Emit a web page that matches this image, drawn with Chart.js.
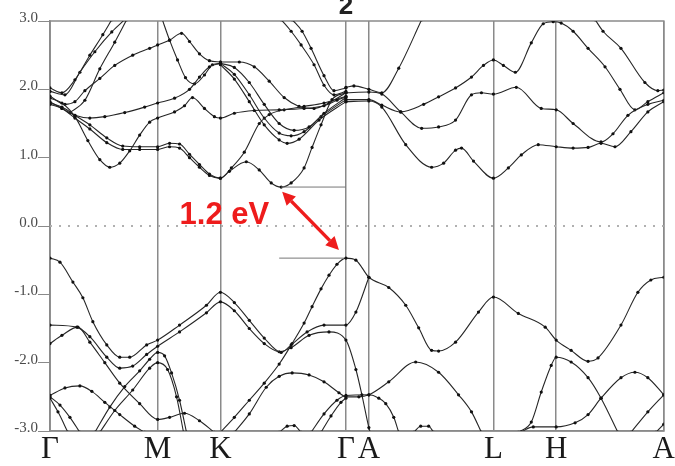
<!DOCTYPE html>
<html>
<head>
<meta charset="utf-8">
<script src="https://cdn.jsdelivr.net/npm/chart.js@4.4.1/dist/chart.umd.min.js"></script>
<style>
  html, body { margin: 0; padding: 0; background: #fff; }
  #wrap { width: 675px; height: 466px; }
</style>
</head>
<body>
<div id="wrap"><canvas id="bandChart" width="675" height="466"></canvas></div>
<script>
// high-symmetry points along the k-path
const kTicks = [0, 1.08, 1.71, 2.97, 3.20, 4.45, 5.08, 6.16];
const kLabels = ['Γ', 'M', 'K', 'Γ', 'A', 'L', 'H', 'A'];
const eTicks = [3, 2, 1, 0, -1, -2, -3];

// conduction bands [k, E]
const cb1 = [[0,1.87],[0.12,1.80],[0.25,1.60],[0.38,1.25],[0.5,0.97],[0.6,0.86],[0.7,0.92],[0.8,1.10],[0.9,1.33],[1.0,1.52],[1.08,1.58],[1.25,1.67],[1.35,1.76],[1.43,1.88],[1.55,1.72],[1.65,1.60],[1.71,1.58],[1.85,1.65],[2.05,1.69],[2.3,1.70],[2.55,1.72],[2.75,1.76],[2.88,1.84],[2.97,1.89]];
const cb2 = [[0,1.80],[0.12,1.74],[0.25,1.62],[0.4,1.48],[0.57,1.29],[0.73,1.17],[0.9,1.16],[1.08,1.16],[1.2,1.21],[1.3,1.20],[1.4,1.05],[1.5,0.90],[1.6,0.76],[1.71,0.70],[1.8,0.80],[1.97,0.94],[2.1,0.82],[2.22,0.63],[2.32,0.57],[2.42,0.63],[2.55,0.85],[2.63,1.15],[2.72,1.48],[2.83,1.85],[2.97,1.95]];
const cb3 = [[0,1.78],[0.12,1.72],[0.25,1.58],[0.4,1.42],[0.57,1.22],[0.73,1.12],[0.9,1.12],[1.08,1.12],[1.2,1.16],[1.3,1.14],[1.4,1.0],[1.5,0.86],[1.6,0.74],[1.71,0.70],[1.82,0.85],[1.95,1.08],[2.1,1.50],[2.2,1.63],[2.35,1.70],[2.55,1.75],[2.75,1.80],[2.97,1.90]];
const cb4 = [[0,1.82],[0.12,1.72],[0.25,1.62],[0.4,1.58],[0.55,1.60],[0.75,1.66],[0.95,1.74],[1.08,1.80],[1.25,1.87],[1.4,2.00],[1.5,2.18],[1.6,2.33],[1.71,2.38]];
const cb5 = [[0,1.90],[0.15,1.78],[0.25,1.82],[0.35,1.98],[0.5,2.16],[0.65,2.35],[0.83,2.50],[1.0,2.60],[1.08,2.65],[1.2,2.72],[1.32,2.82],[1.4,2.70],[1.5,2.52],[1.6,2.42],[1.71,2.40]];
const cb6 = [[1.12,3.05],[1.2,2.72],[1.28,2.43],[1.36,2.17],[1.45,2.08],[1.55,2.21],[1.63,2.36],[1.71,2.38]];
const cb7 = [[0,2.02],[0.12,1.95],[0.25,2.14],[0.4,2.50],[0.53,2.80],[0.62,3.02]];
const cb8 = [[0,1.97],[0.15,1.92],[0.3,2.25],[0.45,2.55],[0.62,2.84],[0.75,3.02]];
const cb9 = [[0.2,1.66],[0.35,1.84],[0.5,2.30],[0.65,2.69],[0.77,3.02]];
const cb10 = [[1.71,2.40],[1.9,2.40],[2.05,2.33],[2.2,2.12],[2.35,1.88],[2.5,1.75],[2.65,1.72],[2.8,1.80],[2.97,1.95]];
const cb11 = [[1.71,2.38],[1.85,2.32],[2.0,2.10],[2.15,1.78],[2.3,1.50],[2.45,1.40],[2.6,1.45],[2.75,1.65],[2.97,1.88]];
const cb12 = [[1.71,2.38],[1.85,2.22],[2.0,1.92],[2.15,1.58],[2.3,1.36],[2.42,1.32],[2.55,1.38],[2.72,1.60],[2.97,1.85]];
const cb13 = [[1.71,2.36],[1.85,2.15],[2.0,1.82],[2.15,1.48],[2.3,1.26],[2.38,1.21],[2.5,1.27],[2.7,1.55],[2.97,1.82]];
const cb14 = [[2.32,3.02],[2.42,2.85],[2.52,2.65],[2.65,2.36],[2.75,2.06],[2.85,1.92],[2.97,1.97]];
const cb15 = [[2.43,3.02],[2.53,2.85],[2.62,2.60],[2.75,2.20],[2.85,1.98],[2.97,2.02]];
const cb16 = [[2.97,2.03],[3.05,2.05],[3.2,2.00],[3.33,1.95],[3.5,2.31],[3.73,3.02]];
const cb17 = [[2.97,1.95],[3.2,1.96],[3.33,1.93],[3.52,1.67],[3.73,1.43],[3.9,1.45],[4.07,1.55],[4.23,1.92],[4.33,1.95],[4.45,1.93],[4.68,2.03],[4.93,1.72],[5.08,1.70],[5.25,1.50],[5.53,1.23],[5.65,1.35],[5.8,1.62],[6.0,1.78],[6.16,1.84]];
const cb18 = [[2.97,1.85],[3.2,1.85],[3.33,1.77],[3.52,1.67],[3.75,1.78],[3.9,1.89],[4.07,2.02],[4.23,2.18],[4.35,2.35],[4.45,2.43],[4.55,2.35],[4.67,2.25],[4.83,2.68],[4.95,2.96],[5.05,2.99],[5.13,2.97],[5.25,2.85],[5.4,2.60],[5.57,2.33],[5.72,2.00],[5.87,1.70],[6.0,1.82],[6.16,1.95]];
const cb19 = [[2.97,1.82],[3.2,1.83],[3.33,1.74],[3.57,1.19],[3.83,0.86],[3.95,0.92],[4.07,1.11],[4.13,1.14],[4.25,0.95],[4.45,0.70],[4.6,0.85],[4.73,1.04],[4.9,1.19],[5.08,1.16],[5.25,1.14],[5.4,1.15],[5.53,1.21],[5.67,1.16],[5.83,1.38],[6.0,1.67],[6.16,1.82]];
const cb20 = [[5.47,3.02],[5.55,2.85],[5.73,2.60],[5.97,2.10],[6.1,1.98],[6.16,1.99]];

// valence bands [k, E]
const vb1 = [[0,-0.47],[0.1,-0.53],[0.23,-0.82],[0.33,-1.05],[0.43,-1.40],[0.57,-1.74],[0.7,-1.92],[0.8,-1.92],[0.97,-1.74],[1.08,-1.67],[1.3,-1.45],[1.57,-1.16],[1.71,-0.97],[1.85,-1.12],[2.0,-1.38],[2.15,-1.64],[2.32,-1.85],[2.42,-1.74],[2.58,-1.55],[2.75,-1.45],[2.97,-1.45],[3.07,-1.26],[3.2,-0.75]];
const vb2 = [[0,-1.45],[0.27,-1.48],[0.4,-1.62],[0.57,-1.92],[0.7,-2.08],[0.83,-2.05],[0.97,-1.88],[1.08,-1.76],[1.3,-1.55],[1.57,-1.27],[1.71,-1.11],[1.85,-1.24],[2.0,-1.50],[2.15,-1.72],[2.3,-1.84],[2.42,-1.78],[2.6,-1.60],[2.8,-1.55],[2.97,-1.67],[3.07,-2.10],[3.13,-2.47],[3.2,-2.95],[3.22,-3.05]];
const vb3 = [[0,-1.72],[0.12,-1.60],[0.28,-1.48],[0.4,-1.70],[0.55,-2.00],[0.7,-2.30],[0.9,-2.60],[1.08,-2.83],[1.2,-2.80],[1.35,-2.74],[1.5,-2.85],[1.65,-3.02]];
const vb4 = [[0.45,-3.02],[0.6,-2.65],[0.75,-2.35],[0.9,-2.12],[1.0,-1.95],[1.08,-1.85],[1.15,-1.90],[1.22,-2.15],[1.3,-2.55],[1.37,-3.02]];
const vb5 = [[0.5,-3.02],[0.65,-2.70],[0.83,-2.40],[1.0,-2.08],[1.08,-2.00],[1.18,-2.10],[1.27,-2.50],[1.34,-3.02]];
const vb6 = [[0,-2.48],[0.15,-2.37],[0.3,-2.34],[0.42,-2.42],[0.55,-2.58],[0.7,-2.76],[0.85,-2.93],[0.95,-3.02]];
const vb7 = [[0,-2.50],[0.1,-2.62],[0.2,-2.80],[0.3,-3.02]];
const vb8 = [[0,-2.52],[0.08,-2.72],[0.18,-3.02]];
const vb9 = [[1.71,-3.02],[1.85,-2.80],[2.0,-2.55],[2.15,-2.30],[2.3,-2.02],[2.43,-1.72],[2.55,-1.42],[2.63,-1.18],[2.72,-0.92],[2.8,-0.72],[2.88,-0.56],[2.97,-0.47],[3.07,-0.50],[3.2,-0.75],[3.4,-0.90],[3.57,-1.16],[3.7,-1.49],[3.83,-1.82],[3.9,-1.83],[4.07,-1.70],[4.3,-1.26],[4.45,-1.04],[4.7,-1.28],[4.97,-1.48],[5.08,-1.67],[5.23,-1.82],[5.4,-1.98],[5.5,-1.93],[5.73,-1.45],[5.9,-0.97],[6.03,-0.79],[6.16,-0.75]];
const vb10 = [[1.85,-3.02],[2.0,-2.75],[2.17,-2.36],[2.3,-2.20],[2.43,-2.15],[2.6,-2.18],[2.75,-2.28],[2.9,-2.44],[2.97,-2.50],[3.1,-2.50],[3.2,-2.47],[3.4,-2.28],[3.67,-1.99],[3.9,-2.14],[4.1,-2.47],[4.23,-2.72],[4.33,-3.02]];
const vb11 = [[2.62,-3.02],[2.75,-2.75],[2.88,-2.55],[2.97,-2.48],[3.2,-2.47],[3.3,-2.52],[3.37,-2.60],[3.45,-2.80],[3.5,-3.02]];
const vb12 = [[2.72,-3.02],[2.82,-2.78],[2.92,-2.58],[2.97,-2.52]];
const vb13 = [[2.3,-3.02],[2.38,-2.93],[2.45,-2.92],[2.52,-3.02]];
const vb14 = [[3.65,-3.02],[3.72,-2.93],[3.8,-2.93],[3.85,-3.02]];
const vb15 = [[4.7,-3.02],[4.83,-2.87],[4.93,-2.43],[5.03,-2.04],[5.08,-1.92],[5.23,-1.99],[5.4,-2.22],[5.53,-2.52],[5.7,-3.02]];
const vb16 = [[4.72,-3.02],[4.85,-2.94],[5.08,-2.94],[5.27,-2.88],[5.4,-2.76],[5.53,-2.52],[5.73,-2.22],[5.87,-2.14],[6.0,-2.22],[6.16,-2.47]];
const vb17 = [[5.83,-3.02],[6.0,-2.72],[6.16,-2.47]];
const vb18 = [[6.08,-3.02],[6.16,-2.90]];

// gap markers and annotation
const fermiLine = [[0,0],[6.16,0]];
const cbmLine = [[2.32,0.57],[2.97,0.57]];
const vbmLine = [[2.30,-0.47],[2.95,-0.47]];
const arrowFrom = [2.33, 0.50];
const arrowTo = [2.90, -0.35];
const gapLabel = '1.2 eV';
const gapLabelAt = [1.30, 0.03];
const topLabel = '2';

const bands = [cb1, cb2, cb3, cb4, cb5, cb6, cb7, cb8, cb9, cb10, cb11, cb12, cb13, cb14, cb15, cb16, cb17, cb18, cb19, cb20,
               vb1, vb2, vb3, vb4, vb5, vb6, vb7, vb8, vb9, vb10, vb11, vb12, vb13, vb14, vb15, vb16, vb17, vb18];

function toXY(arr) {
    return arr.map(p => ({ x: p[0], y: p[1] }));
}

const datasets = [];
datasets.push({ data: toXY(fermiLine), borderColor: '#b0b0b0', borderWidth: 2, borderDash: [2, 7], pointRadius: 0 });
datasets.push({ data: toXY(cbmLine), borderColor: '#777', borderWidth: 1, pointRadius: 0 });
datasets.push({ data: toXY(vbmLine), borderColor: '#777', borderWidth: 1, pointRadius: 0 });
bands.forEach(b => {
    datasets.push({
        data: toXY(b),
        borderColor: '#262626',
        borderWidth: 1.1,
        pointRadius: 1.6,
        pointBackgroundColor: '#111',
        pointBorderWidth: 0,
        cubicInterpolationMode: 'monotone'
    });
});

const decorations = {
    id: 'decorations',
    beforeDatasetsDraw(chart) {
        const ctx = chart.ctx;
        const a = chart.chartArea;
        ctx.save();
        ctx.strokeStyle = '#8a8a8a';
        ctx.lineWidth = 1.5;
        ctx.strokeRect(a.left, a.top, a.right - a.left, a.bottom - a.top);
        ctx.restore();
    },
    afterDraw(chart) {
        const ctx = chart.ctx;
        const xs = chart.scales.x, ys = chart.scales.y;
        const x1 = xs.getPixelForValue(arrowFrom[0]), y1 = ys.getPixelForValue(arrowFrom[1]);
        const x2 = xs.getPixelForValue(arrowTo[0]), y2 = ys.getPixelForValue(arrowTo[1]);
        const ang = Math.atan2(y2 - y1, x2 - x1);
        const head = 13, half = 6.5;
        ctx.save();
        ctx.strokeStyle = '#ee1c1c';
        ctx.fillStyle = '#ee1c1c';
        ctx.lineWidth = 3.5;
        ctx.beginPath();
        ctx.moveTo(x1 + Math.cos(ang) * head, y1 + Math.sin(ang) * head);
        ctx.lineTo(x2 - Math.cos(ang) * head, y2 - Math.sin(ang) * head);
        ctx.stroke();
        [[x1, y1, ang + Math.PI], [x2, y2, ang]].forEach(([px, py, a]) => {
            ctx.beginPath();
            ctx.moveTo(px, py);
            ctx.lineTo(px - Math.cos(a) * head - Math.sin(a) * half, py - Math.sin(a) * head + Math.cos(a) * half);
            ctx.lineTo(px - Math.cos(a) * head + Math.sin(a) * half, py - Math.sin(a) * head - Math.cos(a) * half);
            ctx.closePath();
            ctx.fill();
        });
        ctx.font = 'bold 31px "Liberation Sans", Arial, sans-serif';
        ctx.textBaseline = 'alphabetic';
        ctx.textAlign = 'left';
        ctx.fillText(gapLabel, xs.getPixelForValue(gapLabelAt[0]), ys.getPixelForValue(gapLabelAt[1]));
        ctx.fillStyle = '#222';
        ctx.font = 'bold 26px "Liberation Sans", Arial, sans-serif';
        ctx.textAlign = 'center';
        ctx.fillText(topLabel, xs.getPixelForValue(kTicks[3]), 14);
        ctx.restore();
    }
};

new Chart(document.getElementById('bandChart'), {
    type: 'line',
    data: { datasets: datasets },
    plugins: [decorations],
    options: {
        responsive: false,
        animation: false,
        events: [],
        layout: { padding: { top: 21, right: 9, left: 0, bottom: 0 } },
        plugins: { legend: { display: false }, tooltip: { enabled: false } },
        scales: {
            x: {
                type: 'linear',
                min: 0,
                max: 6.16,
                afterBuildTicks: s => { s.ticks = kTicks.map(v => ({ value: v })); },
                afterFit: s => { s.height = 35; },
                ticks: {
                    autoSkip: false,
                    maxRotation: 0,
                    padding: 0,
                    color: '#1a1a1a',
                    font: { family: '"Liberation Serif", "DejaVu Serif", serif', size: 31 },
                    callback: (v, i) => kLabels[i]
                },
                grid: { color: '#8a8a8a', lineWidth: 1.5, drawTicks: false },
                border: { color: '#8a8a8a', width: 1.5 }
            },
            y: {
                min: -3,
                max: 3,
                afterBuildTicks: s => { s.ticks = eTicks.map(v => ({ value: v })); },
                afterFit: s => { s.width = 50; },
                ticks: {
                    padding: 0,
                    labelOffset: -3,
                    color: '#4a4a4a',
                    font: { family: '"Liberation Serif", "DejaVu Serif", serif', size: 15 },
                    callback: v => v.toFixed(1)
                },
                grid: { drawOnChartArea: false, tickLength: 12, color: '#8a8a8a', lineWidth: 1 },
                border: { color: '#8a8a8a', width: 1.5 }
            }
        }
    }
});
</script>
</body>
</html>
